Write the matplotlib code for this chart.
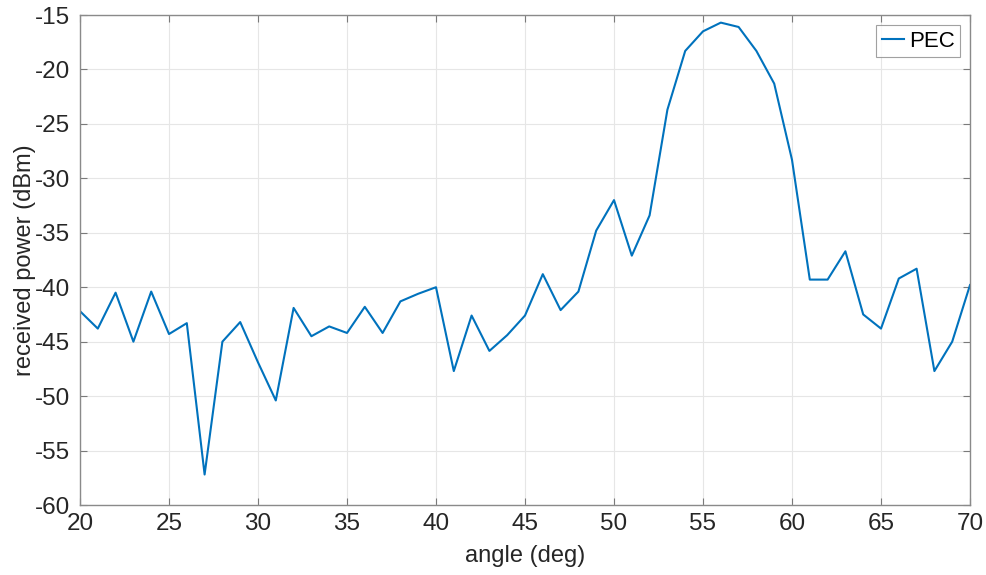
import matplotlib.pyplot as plt
import numpy as np

plt.rcParams["font.family"] = ["Liberation Sans", "DejaVu Sans"]
plt.rcParams["axes.unicode_minus"] = False

angle = np.arange(20, 71)
pec = [
    -42.2, -43.8, -40.5, -45.0, -40.4, -44.3, -43.3, -57.2, -45.0, -43.2,
    -46.9, -50.4, -41.9, -44.5, -43.6, -44.2, -41.8, -44.2, -41.3, -40.6,
    -40.0, -47.7, -42.6, -45.85, -44.4, -42.6, -38.8, -42.1, -40.4, -34.8,
    -32.0, -37.1, -33.4, -23.7, -18.3, -16.5, -15.7, -16.1, -18.3, -21.3,
    -28.3, -39.3, -39.3, -36.7, -42.5, -43.8, -39.2, -38.3, -47.7, -45.0,
    -39.8,
]
xticks = np.arange(20, 71, 5)
yticks = np.arange(-60, -14, 5)

fig = plt.figure(figsize=(9.87, 5.75), dpi=100)
ax = fig.add_axes([80 / 987, 1 - 505 / 575, 890 / 987, 490 / 575])

ax.plot(angle, pec, color="#0072BD", linewidth=1.5, label="PEC")

ax.set_xlim(20, 70)
ax.set_ylim(-60, -15)
ax.set_xticks(xticks)
ax.set_yticks(yticks)
ax.grid(True, color="#e6e6e6", linewidth=0.8)
ax.set_axisbelow(True)

for s in ax.spines.values():
    s.set_color("#8a8a8a")
    s.set_linewidth(1.0)
ax.tick_params(direction="in", top=True, right=True, length=5,
               color="#7a7a7a", labelsize=17.5, labelcolor="#262626")
ax.tick_params(axis="y", pad=7)
ax.tick_params(axis="x", pad=6)

ax.set_xlabel("angle (deg)", fontsize=17, color="#262626", labelpad=7)
ax.set_ylabel("received power (dBm)", fontsize=17, color="#262626", labelpad=-1)

leg = ax.legend(loc="upper right", fontsize=16, handlelength=1.0,
                handletextpad=0.2, borderpad=0.25, fancybox=False,
                borderaxespad=0.45)
leg.get_frame().set_edgecolor("#8a8a8a")
leg.get_frame().set_linewidth(0.8)

fig.savefig("out.png", dpi=100)
